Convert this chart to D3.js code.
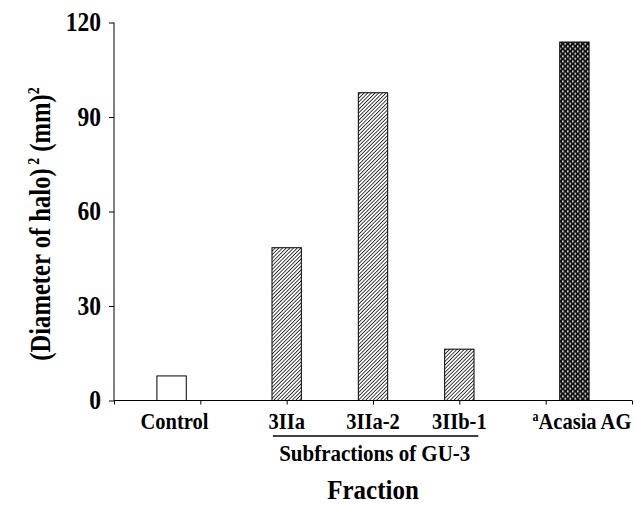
<!DOCTYPE html>
<html>
<head>
<meta charset="utf-8">
<style>
body { margin: 0; background: #fff; }
svg text { font-family: "Liberation Serif", "Times New Roman", serif; font-weight: bold; fill: #000; }
.axis path, .axis line { stroke: #000; stroke-width: 1; }
</style>
</head>
<body>
<svg width="635" height="505"></svg>
<script src="https://d3js.org/d3.v7.min.js"></script>
<script>

// chart values
var categories = ["Control", "3IIa", "3IIa-2", "3IIb-1", "Acasia AG"];
var values = [7.8, 48.5, 97.7, 16.3, 113.8];
var slotPos = [0.667, 2, 3, 4, 5.333];      // bar centre, in category-slot units
var labelPos = [0.70, 2, 3, 4, 5.42];
var fills = ["none", "hatch", "hatch", "hatch", "cross"];
var yTicks = [0, 30, 60, 90, 120];

var svg = d3.select("svg"),
    margin = {top: 22.5, right: 3, bottom: 104.5, left: 114},
    width = +svg.attr("width") - margin.left - margin.right,
    height = +svg.attr("height") - margin.top - margin.bottom;

var stretch = 1.13; // the lettering in the figure is a bit taller than plain Times

var x = d3.scaleLinear().domain([0, 6]).range([0, width]),
    y = d3.scaleLinear().domain([0, 120]).range([height, 0]);

var defs = svg.append("defs");

var hatch = defs.append("pattern")
    .attr("id", "hatch")
    .attr("patternUnits", "userSpaceOnUse")
    .attr("width", 2.6)
    .attr("height", 2.6)
    .attr("patternTransform", "rotate(45)");
hatch.append("rect").attr("width", 2.6).attr("height", 2.6).attr("fill", "#fff");
hatch.append("line")
    .attr("x1", 0).attr("y1", 0).attr("x2", 0).attr("y2", 2.6)
    .attr("stroke", "#000").attr("stroke-width", 1.5);

var cross = defs.append("pattern")
    .attr("id", "cross")
    .attr("patternUnits", "userSpaceOnUse")
    .attr("width", 5)
    .attr("height", 5);
cross.append("rect").attr("width", 5).attr("height", 5).attr("fill", "#111");
cross.append("rect").attr("x", 0.5).attr("y", 0.5).attr("width", 1.6).attr("height", 1.6).attr("fill", "#fff");
cross.append("rect").attr("x", 3).attr("y", 3).attr("width", 1.6).attr("height", 1.6).attr("fill", "#fff");

var g = svg.append("g")
    .attr("transform", "translate(" + margin.left + "," + margin.top + ")");

function label(parent, px, py, size) {
  return parent.append("text")
      .attr("transform", "translate(" + px + "," + py + ") scale(1," + stretch + ")")
      .attr("text-anchor", "middle")
      .style("font-size", size + "px");
}

var barW = x(0.34) - x(0);

g.selectAll(".bar")
    .data(values)
  .enter().append("rect")
    .attr("class", "bar")
    .attr("x", function(d, i) { return x(slotPos[i]) - barW / 2; })
    .attr("y", function(d) { return y(d); })
    .attr("width", barW)
    .attr("height", function(d) { return height - y(d); })
    .attr("fill", function(d, i) { return fills[i] === "none" ? "#fff" : "url(#" + fills[i] + ")"; })
    .attr("stroke", "#000")
    .attr("stroke-width", 1);

// y axis
var yAxis = g.append("g")
    .attr("class", "axis")
    .call(d3.axisLeft(y).tickValues(yTicks).tickSize(5).tickPadding(8));
yAxis.selectAll("text")
    .style("font-size", "23.5px")
    .attr("dy", null)
    .attr("transform", "translate(0,8) scale(1," + stretch + ")")
    .attr("y", 0);
yAxis.selectAll(".tick text").attr("x", -13);
yAxis.select(".domain").attr("d", "M0," + y(120) + "V" + height);

// x axis
var xAxis = g.append("g")
    .attr("class", "axis")
    .attr("transform", "translate(0," + height + ")")
    .call(d3.axisBottom(x).tickValues(d3.range(0, 7)).tickSize(4).tickFormat(""));
xAxis.select(".domain").attr("d", "M0,0H" + width);

// category labels
categories.forEach(function(d, i) {
  var t = label(g, x(labelPos[i]), height + 28.5, 20.5);
  if (i === 4) {
    t.append("tspan").attr("dy", "-7").style("font-size", "12px").text("a");
    t.append("tspan").attr("dy", "7").text(d);
  } else {
    t.text(d);
  }
});

// group bracket for subfractions
g.append("line")
    .attr("x1", x(1.84)).attr("x2", x(4.22))
    .attr("y1", height + 35.5).attr("y2", height + 35.5)
    .attr("stroke", "#000").attr("stroke-width", 1.3);

label(g, x(3.02), height + 60.5, 21).text("Subfractions of GU-3");

// axis titles
label(g, width / 2, height + 98.5, 25).text("Fraction");

var yt = svg.append("text")
    .attr("transform", "translate(50,224) rotate(-90) scale(0.93,1.08)")
    .attr("text-anchor", "middle")
    .style("font-size", "26.5px");
yt.append("tspan").text("(Diameter of halo)");
yt.append("tspan").attr("dy", "-10").style("font-size", "15px").text(" 2");
yt.append("tspan").attr("dy", "10").text(" (mm)");
yt.append("tspan").attr("dy", "-10").style("font-size", "15px").text("2");

</script>
</body>
</html>
